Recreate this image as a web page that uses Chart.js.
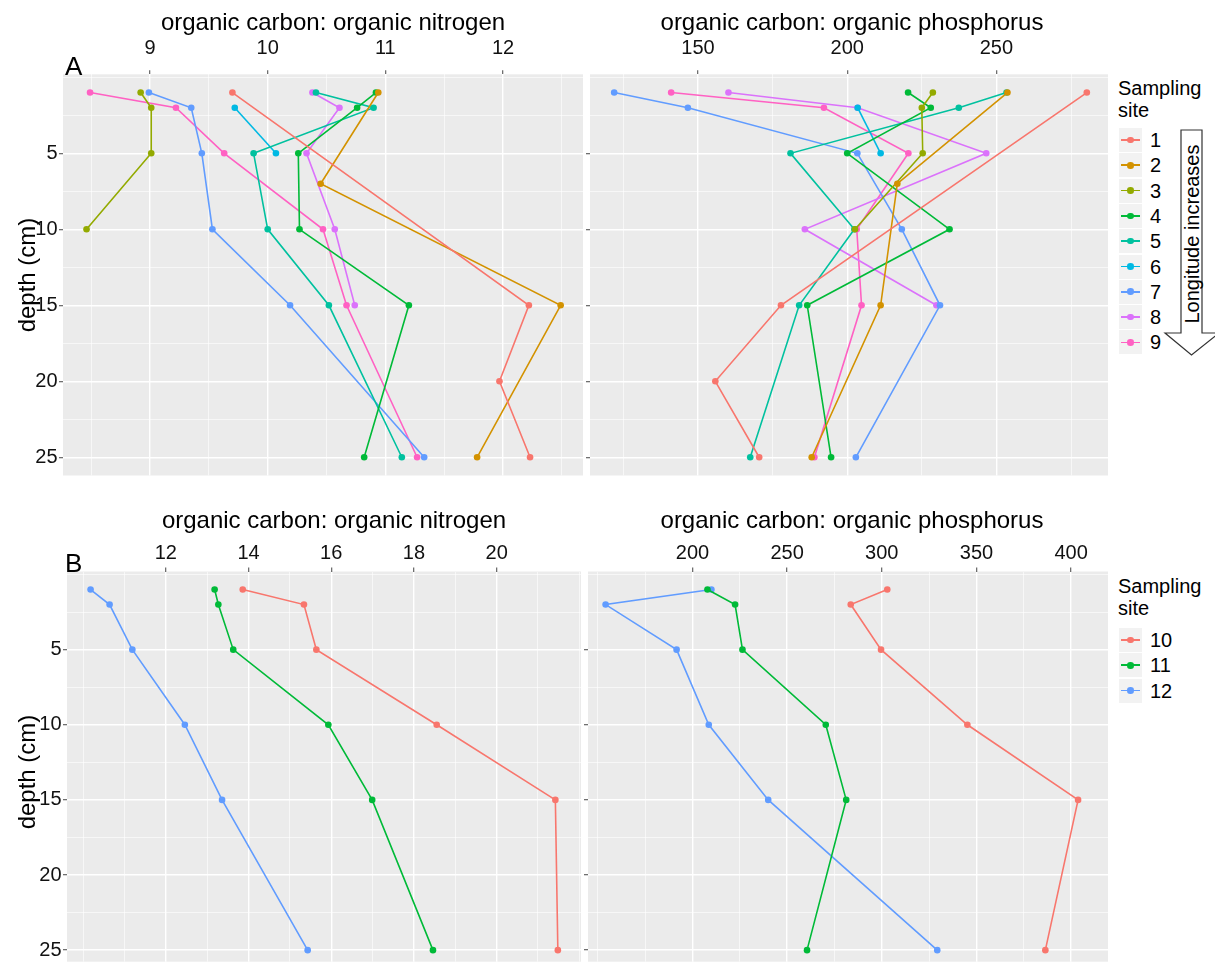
<!DOCTYPE html>
<html>
<head>
<meta charset="utf-8">
<script src="https://cdn.jsdelivr.net/npm/chart.js@4.4.0/dist/chart.umd.min.js"></script>
<style>
  body { margin: 0; width: 1215px; height: 965px; overflow: hidden; position: relative; background: #fff;
         font-family: 'Liberation Sans', Arial, Helvetica, sans-serif; color: #000; }
  canvas { position: absolute; }
  .txt { position: absolute; white-space: nowrap; }
  .title { font-size: 24px; line-height: 24px; width: 600px; text-align: center; }
  .ylab { font-size: 24px; line-height: 24px; width: 200px; text-align: center; transform: rotate(-90deg); }
  .tag { font-size: 26px; line-height: 26px; }
  .legtitle { font-size: 20px; line-height: 22px; }
  .key { position: absolute; width: 23px; height: 24px; background: #F2F2F2; }
  .key i { position: absolute; left: 2px; right: 2px; top: 11.2px; height: 1.6px; }
  .key b { position: absolute; left: 8.2px; top: 8.7px; width: 6.6px; height: 6.6px; border-radius: 50%; }
  .keylab { position: absolute; font-size: 20px; line-height: 20px; }
</style>
</head>
<body>
<canvas id="aN" width="590" height="480" style="left:0px;top:0px"></canvas>
<canvas id="aP" width="535" height="480" style="left:580px;top:0px"></canvas>
<canvas id="bN" width="590" height="485" style="left:0px;top:480px"></canvas>
<canvas id="bP" width="537" height="485" style="left:578px;top:480px"></canvas>

<div class="txt title" style="left:33px;top:10px">organic carbon: organic nitrogen</div>
<div class="txt title" style="left:552px;top:10px">organic carbon: organic phosphorus</div>
<div class="txt title" style="left:34px;top:508px">organic carbon: organic nitrogen</div>
<div class="txt title" style="left:552px;top:508px">organic carbon: organic phosphorus</div>
<div class="txt ylab" style="left:-73px;top:263px">depth (cm)</div>
<div class="txt ylab" style="left:-73px;top:760px">depth (cm)</div>
<div class="txt tag" style="left:65px;top:53px">A</div>
<div class="txt tag" style="left:65px;top:550px">B</div>

<div class="txt legtitle" style="left:1118px;top:77px">Sampling<br>site</div>
<div class="txt legtitle" style="left:1118px;top:575px">Sampling<br>site</div>
<div id="legA"></div>
<div id="legB"></div>

<svg style="position:absolute;left:1150px;top:120px" width="65" height="245">
  <polygon points="31,10 52,10 52,213 69,213 41.5,235 15,213 31,213"
           fill="#fff" stroke="#333" stroke-width="1.2"/>
</svg>
<div class="txt" style="left:1091.5px;top:224px;width:200px;text-align:center;font-size:20px;line-height:20px;transform:rotate(-90deg)">Longitude increases</div>

<script>
// panel A: sampling sites 1-9
const sitesA = ['1', '2', '3', '4', '5', '6', '7', '8', '9'];
const colorsA = ['#F8766D', '#D39200', '#93AA00', '#00BA38', '#00C19F', '#00B9E3', '#619CFF', '#DB72FB', '#FF61C3'];
const depthsA = [
  [1, 15, 20, 25],
  [1, 7, 15, 25],
  [1, 2, 5, 10],
  [1, 2, 5, 10, 15, 25],
  [1, 2, 5, 10, 15, 25],
  [2, 5],
  [1, 2, 5, 10, 15, 25],
  [1, 2, 5, 10, 15],
  [1, 2, 5, 10, 15, 25]
];
// C:N ratio
const cnA = [
  [9.70, 12.22, 11.97, 12.23],
  [10.94, 10.45, 12.49, 11.78],
  [8.92, 9.01, 9.01, 8.46],
  [10.92, 10.76, 10.26, 10.27, 11.20, 10.82],
  [10.41, 10.90, 9.88, 10.00, 10.52, 11.14],
  [9.72, 10.07],
  [8.99, 9.35, 9.44, 9.53, 10.19, 11.33],
  [10.38, 10.61, 10.33, 10.57, 10.74],
  [8.49, 9.22, 9.63, 10.47, 10.67, 11.27]
];
// C:P ratio
const cpA = [
  [280.3, 177.8, 155.8, 170.5],
  [253.7, 216.8, 211.2, 188.1],
  [228.7, 225.0, 225.3, 202.6],
  [220.4, 228.0, 200.0, 234.3, 186.6, 194.6],
  [253.4, 237.4, 181.0, 202.4, 183.9, 167.5],
  [203.5, 211.2],
  [121.9, 146.6, 203.4, 218.3, 231.1, 202.9],
  [160.2, 203.5, 246.6, 185.8, 229.9],
  [141.0, 192.2, 220.5, 203.2, 204.8, 189.0]
];

// panel B: sampling sites 10-12
const sitesB = ['10', '11', '12'];
const colorsB = ['#F8766D', '#00BA38', '#619CFF'];
const depthsB = [1, 2, 5, 10, 15, 25];
const cnB = [
  [13.86, 15.34, 15.64, 18.55, 21.42, 21.48],
  [13.18, 13.27, 13.63, 15.93, 16.99, 18.46],
  [10.18, 10.64, 11.19, 12.46, 13.36, 15.43]
];
const cpB = [
  [302.9, 283.6, 299.6, 345.2, 403.7, 386.4],
  [207.9, 222.5, 226.4, 270.4, 281.2, 260.5],
  [210.0, 154.1, 191.6, 208.6, 240.0, 329.3]
];

// axis breaks
const depthMajor = [5, 10, 15, 20, 25];
const depthMinor = [0, 2.5, 7.5, 12.5, 17.5, 22.5];
const cnMajorA = [9, 10, 11, 12];
const cnMinorA = [8.5, 9.5, 10.5, 11.5, 12.5];
const cpMajorA = [150, 200, 250];
const cpMinorA = [125, 175, 225, 275];
const cnMajorB = [12, 14, 16, 18, 20];
const cnMinorB = [10, 11, 13, 15, 17, 19, 21, 22];
const cpMajorB = [200, 250, 300, 350, 400];
const cpMinorB = [150, 175, 225, 275, 325, 375];

Chart.defaults.font.family = "'Liberation Sans', Arial, Helvetica, sans-serif";

const panelBg = {
  id: 'panelBg',
  beforeDraw(chart) {
    const a = chart.chartArea, ctx = chart.ctx;
    ctx.save();
    ctx.fillStyle = '#EBEBEB';
    ctx.fillRect(a.left, a.top, a.right - a.left, a.bottom - a.top);
    ctx.restore();
  }
};

function tickList(major, minor) {
  return major.concat(minor).sort((a, b) => a - b).map(v => ({ value: v }));
}

function makePanel(id, o) {
  const majX = v => o.xMajor.includes(v);
  const majY = v => depthMajor.includes(v);
  return new Chart(document.getElementById(id), {
    type: 'scatter',
    data: {
      datasets: o.values.map((vals, i) => ({
        label: o.sites[i],
        data: vals.map((v, j) => ({ x: v, y: o.depths[i][j] })),
        showLine: true,
        borderColor: o.colors[i],
        backgroundColor: o.colors[i],
        borderWidth: 1.6,
        pointRadius: 3.3,
        pointHoverRadius: 3.3,
        pointBorderWidth: 0
      }))
    },
    options: {
      responsive: false,
      animation: false,
      events: [],
      layout: { padding: o.padding },
      plugins: { legend: { display: false }, tooltip: { enabled: false } },
      scales: {
        x: {
          type: 'linear', position: 'top', min: o.xMin, max: o.xMax,
          afterBuildTicks: s => { s.ticks = tickList(o.xMajor, o.xMinor); },
          afterFit: s => { s.paddingLeft = 0; s.paddingRight = 0; },
          ticks: {
            autoSkip: false, maxRotation: 0, padding: o.xPad, color: '#111',
            font: { size: 20, lineHeight: 1 },
            callback: v => majX(v) ? String(v) : ''
          },
          grid: {
            color: '#FFFFFF',
            lineWidth: c => (c.tick && majX(c.tick.value)) ? 1.4 : 0.6,
            tickLength: 4, tickWidth: 1.1,
            tickColor: c => (c.tick && majX(c.tick.value)) ? '#555' : 'rgba(0,0,0,0)'
          },
          border: { display: false }
        },
        y: {
          type: 'linear', reverse: true, min: -0.2, max: o.yMax,
          afterBuildTicks: s => { s.ticks = tickList(depthMajor, depthMinor); },
          afterFit: s => { s.width = o.yWidth; s.paddingTop = 0; s.paddingBottom = 0; },
          ticks: {
            autoSkip: false, padding: 1.5, color: '#111',
            font: { size: 20, lineHeight: 1 },
            callback: v => (o.yLabels && majY(v)) ? String(v) : ''
          },
          grid: {
            color: '#FFFFFF',
            lineWidth: c => (c.tick && majY(c.tick.value)) ? 1.4 : 0.6,
            tickLength: 4, tickWidth: 1.1,
            tickColor: c => (c.tick && majY(c.tick.value)) ? '#555' : 'rgba(0,0,0,0)'
          },
          border: { display: false }
        }
      }
    },
    plugins: [panelBg]
  });
}

// x axis height = 4 (tick) + 20 (label) + 2 * padding; chart top = padding.top + that
makePanel('aN', {
  values: cnA, depths: depthsA, sites: sitesA, colors: colorsA,
  xMin: 8.26, xMax: 12.68, xMajor: cnMajorA, xMinor: cnMinorA,
  yMax: 26.2, xPad: 12.3, yWidth: 63, yLabels: true,
  padding: { left: 0, right: 7, top: 25.7, bottom: 4.5 }
});
makePanel('aP', {
  values: cpA, depths: depthsA, sites: sitesA, colors: colorsA,
  xMin: 113.8, xMax: 287.4, xMajor: cpMajorA, xMinor: cpMinorA,
  yMax: 26.2, xPad: 12.3, yWidth: 10, yLabels: false,
  padding: { left: 0, right: 7, top: 25.7, bottom: 4.5 }
});
makePanel('bN', {
  values: cnB, depths: sitesB.map(() => depthsB), sites: sitesB, colors: colorsB,
  xMin: 9.61, xMax: 22.04, xMajor: cnMajorB, xMinor: cnMinorB,
  yMax: 25.77, xPad: 4.5, yWidth: 67, yLabels: true,
  padding: { left: 0, right: 9, top: 58.5, bottom: 0 }
});
makePanel('bP', {
  values: cpB, depths: sitesB.map(() => depthsB), sites: sitesB, colors: colorsB,
  xMin: 144.8, xMax: 419.5, xMajor: cpMajorB, xMinor: cpMinorB,
  yMax: 25.77, xPad: 4.5, yWidth: 10, yLabels: false,
  padding: { left: 0, right: 7, top: 58.5, bottom: 0 }
});

// legends (ggplot style keys)
function buildLegend(holder, sites, colors, firstY) {
  const el = document.getElementById(holder);
  sites.forEach((s, i) => {
    const cy = firstY + i * 25.3;
    const key = document.createElement('div');
    key.className = 'key';
    key.style.left = '1119px';
    key.style.top = (cy - 12) + 'px';
    key.innerHTML = '<i style="background:' + colors[i] + '"></i><b style="background:' + colors[i] + '"></b>';
    el.appendChild(key);
    const lab = document.createElement('div');
    lab.className = 'keylab';
    lab.style.left = '1150px';
    lab.style.top = (cy - 10) + 'px';
    lab.textContent = s;
    el.appendChild(lab);
  });
}
buildLegend('legA', sitesA, colorsA, 140);
buildLegend('legB', sitesB, colorsB, 640);
</script>
</body>
</html>
